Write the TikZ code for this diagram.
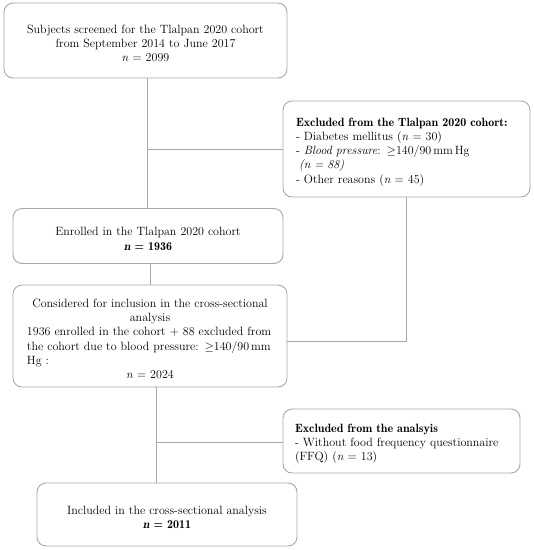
\documentclass[tikz,border=0pt]{standalone}
\newcommand\myL[1]{\par\hbox to\linewidth{#1\hfil}}
\newcommand\myC[1]{\par\hbox to\linewidth{\hfil#1\hfil}}
\newcommand\myJ[1]{\par\hbox to\linewidth{#1}}
\newcommand\mybf[1]{{\fontseries{b}\selectfont #1}}
\begin{document}
\begin{tikzpicture}[x=1pt,y=-1pt,
  box/.style={draw=linegray,line width=0.9pt,rounded corners=9pt,inner sep=0pt,
    font=\fontsize{12}{14.3}\selectfont},
  conn/.style={draw=linegray,line width=0.9pt}]
\definecolor{linegray}{HTML}{A8A8A8}
\useasboundingbox (0,0) rectangle (534,550);
\node[box,minimum width=283,minimum height=75,text width=260] (b1) at (145.5,40.5)
  {\myC{Subjects screened for the Tlalpan 2020 cohort}\myC{from September 2014 to June 2017}\myC{\textit{n} = 2099}};
\node[box,minimum width=247,minimum height=96,text width=221,inner xsep=13pt] (ex1) at (406.5,149)
  {\myL{\mybf{Excluded from the Tlalpan 2020 cohort:}}\myL{- Diabetes mellitus (\textit{n} = 30)}\myL{- \textit{Blood pressure}: $\geq$140/90\,mm\,Hg}\myL{\hspace*{3pt}\textit{(n = 88)}}\myL{- Other reasons (\textit{n} = 45)}};
\node[box,minimum width=270,minimum height=55,text width=250] (b2) at (148,236)
  {\myC{Enrolled in the Tlalpan 2020 cohort}\myC{\mybf{\textit{n} = 1936}}};
\node[box,minimum width=274,minimum height=102,text width=246,inner xsep=14pt] (b3) at (150,336)
  {\myC{Considered for inclusion in the cross-sectional}\myC{analysis}\myJ{1936 enrolled in the cohort + 88 excluded from}\myJ{the cohort due to blood pressure: $\geq$140/90\,mm}\myL{Hg :}\myC{\textit{n} = 2024}};
\node[box,minimum width=237,minimum height=64,text width=213,inner xsep=12pt] (ex2) at (401.5,441)
  {\myL{\mybf{Excluded from the analsyis}}\myL{- Without food frequency questionnaire}\myL{(FFQ) (\textit{n} = 13)}};
\node[box,minimum width=260,minimum height=63,text width=240] (b4) at (167,514.5)
  {\myC{Included in the cross-sectional analysis}\myC{\mybf{\textit{n} = 2011}}};
\coordinate (v1) at (147,149);
\coordinate (v2) at (150,0);
\coordinate (v3) at (156,442);
\coordinate (h2) at (0,341);
\draw[conn] (b1.south -| v1) -- (b2.north -| v1);
\draw[conn] (v1) -- (ex1.west |- v1);
\draw[conn] (b2.south -| v2) -- (b3.north -| v2);
\draw[conn] (ex1.south) |- (b3.east |- h2);
\draw[conn] (b3.south -| v3) -- (b4.north -| v3);
\draw[conn] (v3) -- (ex2.west |- v3);
\end{tikzpicture}
\end{document}
